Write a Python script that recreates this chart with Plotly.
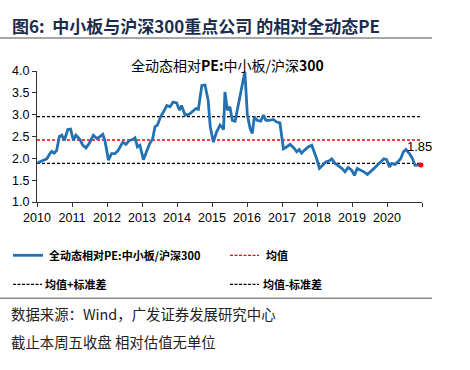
import plotly.graph_objects as go

# ---- data ----
years = [2010.02, 2010.18, 2010.28, 2010.37, 2010.42, 2010.49, 2010.56, 2010.64, 2010.71, 2010.78,
         2010.88, 2010.96, 2011.04, 2011.11, 2011.21, 2011.31, 2011.40, 2011.49, 2011.61, 2011.72,
         2011.80, 2011.88, 2011.94, 2012.04, 2012.13, 2012.23, 2012.32, 2012.45, 2012.54, 2012.64,
         2012.73, 2012.80, 2012.87, 2012.94, 2013.04, 2013.13, 2013.22, 2013.30, 2013.37, 2013.44,
         2013.53, 2013.61, 2013.71, 2013.80, 2013.89, 2013.99, 2014.07, 2014.13, 2014.23, 2014.35,
         2014.47, 2014.54, 2014.61, 2014.71, 2014.80, 2014.89, 2014.95, 2015.04, 2015.13, 2015.23,
         2015.28, 2015.33, 2015.37, 2015.44, 2015.51, 2015.58, 2015.66, 2015.80, 2015.89, 2015.94,
         2016.01, 2016.09, 2016.15, 2016.21, 2016.29, 2016.39, 2016.47, 2016.54, 2016.64, 2016.75,
         2016.85, 2016.94, 2017.04, 2017.13, 2017.23, 2017.34, 2017.42, 2017.49, 2017.56, 2017.66,
         2017.75, 2017.85, 2017.91, 2017.99, 2018.07, 2018.16, 2018.26, 2018.35, 2018.42, 2018.51,
         2018.61, 2018.71, 2018.80, 2018.89, 2018.99, 2019.07, 2019.15, 2019.25, 2019.34, 2019.44,
         2019.53, 2019.63, 2019.72, 2019.82, 2019.91, 2019.99, 2020.07, 2020.13, 2020.23, 2020.31,
         2020.39, 2020.47, 2020.54, 2020.64, 2020.73, 2020.80, 2020.89, 2020.97]
rel_pe = [1.90, 1.95, 1.99, 2.11, 2.16, 2.12, 2.18, 2.50, 2.53, 2.41,
          2.66, 2.67, 2.41, 2.53, 2.45, 2.30, 2.24, 2.34, 2.53, 2.45,
          2.50, 2.55, 2.41, 1.96, 2.11, 2.11, 2.18, 2.37, 2.32, 2.41,
          2.43, 2.47, 2.26, 2.30, 1.97, 2.15, 2.34, 2.43, 2.72, 2.76,
          2.95, 3.06, 3.21, 3.18, 3.29, 3.27, 3.10, 3.21, 2.99, 3.01,
          3.10, 3.14, 3.12, 3.67, 3.68, 3.33, 2.72, 2.37, 2.60, 2.76,
          2.72, 2.66, 3.52, 3.10, 3.18, 2.87, 2.85, 3.48, 3.79, 3.98,
          2.99, 2.68, 2.57, 2.95, 2.87, 2.85, 2.99, 2.87, 2.87, 2.89,
          2.83, 2.81, 2.22, 2.26, 2.32, 2.24, 2.15, 2.20, 2.12, 2.20,
          2.26, 2.30, 2.18, 1.99, 1.77, 1.84, 1.92, 1.94, 1.99, 1.89,
          1.84, 1.77, 1.69, 1.79, 1.73, 1.61, 1.77, 1.73, 1.69, 1.63,
          1.69, 1.77, 1.84, 1.92, 1.99, 1.97, 1.80, 1.88, 1.86, 1.92,
          1.99, 2.15, 2.20, 2.11, 1.99, 1.84, 1.84, 1.85]
mean_val = 2.42
std_val = 0.535
last_label = "1.85"
tick_years = [2010, 2011, 2012, 2013, 2014, 2015, 2016, 2017, 2018, 2019, 2020, 2021]
tick_text = ["2010", "2011", "2012", "2013", "2014", "2015", "2016", "2017", "2018", "2019", "2020", ""]
y_ticks = [1.0, 1.5, 2.0, 2.5, 3.0, 3.5, 4.0]

# ---- layout geometry (pixels) ----
W, H = 470, 370
L, R, T, B = 37, 422, 70.7, 201.7


def X(px):
    return (px - L) / (R - L)


def Y(py):
    return (B - py) / (B - T)


CJK = "Noto Sans CJK SC"
NUM = "Liberation Sans"
BLUE = "#2271b3"

fig = go.Figure()

x0, x1 = years[0] - 0.02, 2020.99
for val, col in [(mean_val + std_val, "black"), (mean_val, "#ff0000"), (mean_val - std_val, "black")]:
    fig.add_trace(go.Scatter(x=[x0, x1], y=[val, val], mode="lines",
                             line=dict(color=col, width=1.3, dash="3px,2px"),
                             hoverinfo="skip", showlegend=False))

fig.add_trace(go.Scatter(x=years, y=rel_pe, mode="lines",
                         line=dict(color=BLUE, width=2.8), showlegend=False))
fig.add_trace(go.Scatter(x=[years[-1]], y=[rel_pe[-1]], mode="markers", cliponaxis=False,
                         marker=dict(color="#ff0000", size=5), showlegend=False))

ann = []
ann.append(dict(x=years[-1], y=rel_pe[-1], xref="x", yref="y", text=last_label, showarrow=False,
                xshift=-1, yshift=18, font=dict(family=NUM, size=13, color="black")))
# inner title
ann.append(dict(x=X(227.5), y=Y(65), xref="paper", yref="paper", showarrow=False,
                text="全动态相对<b>PE:</b>中小板/沪深<b>300</b>",
                font=dict(family=CJK, size=14, color="black"), xanchor="center", yanchor="middle"))
# header
ann.append(dict(x=X(10), y=Y(25), xref="paper", yref="paper", showarrow=False,
                text="<b>图6:  中小板与沪深300重点公司 的相对全动态PE</b>",
                font=dict(family=CJK, size=17, color="#1c2c4c"), xanchor="left", yanchor="middle"))
# legend
leg_font = dict(family=CJK, size=11, color="black")
ann.append(dict(x=X(47), y=Y(255), xref="paper", yref="paper", showarrow=False, xanchor="left",
                yanchor="middle", text="<b>全动态相对PE:中小板/沪深300</b>", font=leg_font))
ann.append(dict(x=X(264), y=Y(255), xref="paper", yref="paper", showarrow=False, xanchor="left",
                yanchor="middle", text="<b>均值</b>", font=leg_font))
ann.append(dict(x=X(43), y=Y(284), xref="paper", yref="paper", showarrow=False, xanchor="left",
                yanchor="middle", text="<b>均值+标准差</b>", font=leg_font))
ann.append(dict(x=X(261), y=Y(284), xref="paper", yref="paper", showarrow=False, xanchor="left",
                yanchor="middle", text="<b>均值-标准差</b>", font=leg_font))
# source
src_font = dict(family=CJK, size=14.4, color="#222222")
ann.append(dict(x=X(9), y=Y(313), xref="paper", yref="paper", showarrow=False, xanchor="left",
                yanchor="middle", text="数据来源：Wind，广发证券发展研究中心", font=src_font))
ann.append(dict(x=X(9), y=Y(341), xref="paper", yref="paper", showarrow=False, xanchor="left",
                yanchor="middle", text="截止本周五收盘 相对估值无单位", font=src_font))

shapes = []
# header & footer rules
for py in (37.7, 298):
    shapes.append(dict(type="line", xref="paper", yref="paper", x0=X(0), x1=X(432), y0=Y(py), y1=Y(py),
                       line=dict(color="#8a8a8a", width=1.5)))
# legend samples
shapes.append(dict(type="line", xref="paper", yref="paper", x0=X(13), x1=X(43), y0=Y(255), y1=Y(255),
                   line=dict(color=BLUE, width=2.8)))
shapes.append(dict(type="line", xref="paper", yref="paper", x0=X(230), x1=X(259), y0=Y(255), y1=Y(255),
                   line=dict(color="#ff0000", width=1.2, dash="3px,1.5px")))
shapes.append(dict(type="line", xref="paper", yref="paper", x0=X(13), x1=X(42), y0=Y(284), y1=Y(284),
                   line=dict(color="black", width=1.2, dash="3px,1.5px")))
shapes.append(dict(type="line", xref="paper", yref="paper", x0=X(230), x1=X(259), y0=Y(284), y1=Y(284),
                   line=dict(color="black", width=1.2, dash="3px,1.5px")))

fig.update_layout(
    width=W, height=H,
    margin=dict(l=L, r=W - R, t=T, b=H - B, pad=0),
    paper_bgcolor="white", plot_bgcolor="white",
    annotations=ann, shapes=shapes, showlegend=False,
    xaxis=dict(range=[2010, 2021], tickvals=tick_years, ticktext=tick_text, showgrid=False,
               zeroline=False, showline=True, linecolor="#333333", linewidth=1.2,
               ticks="outside", ticklen=4, tickcolor="#333333",
               tickfont=dict(family=NUM, size=12.5, color="black")),
    yaxis=dict(range=[1.0, 4.0], tickvals=y_ticks, tickformat=".1f", showgrid=False,
               zeroline=False, showline=True, linecolor="#333333", linewidth=1.2,
               ticks="outside", ticklen=4, tickcolor="#333333",
               tickfont=dict(family=NUM, size=12.5, color="black")),
)

fig.write_html("out.html", config={"displayModeBar": False},
               post_script="document.body.style.margin='0';")
